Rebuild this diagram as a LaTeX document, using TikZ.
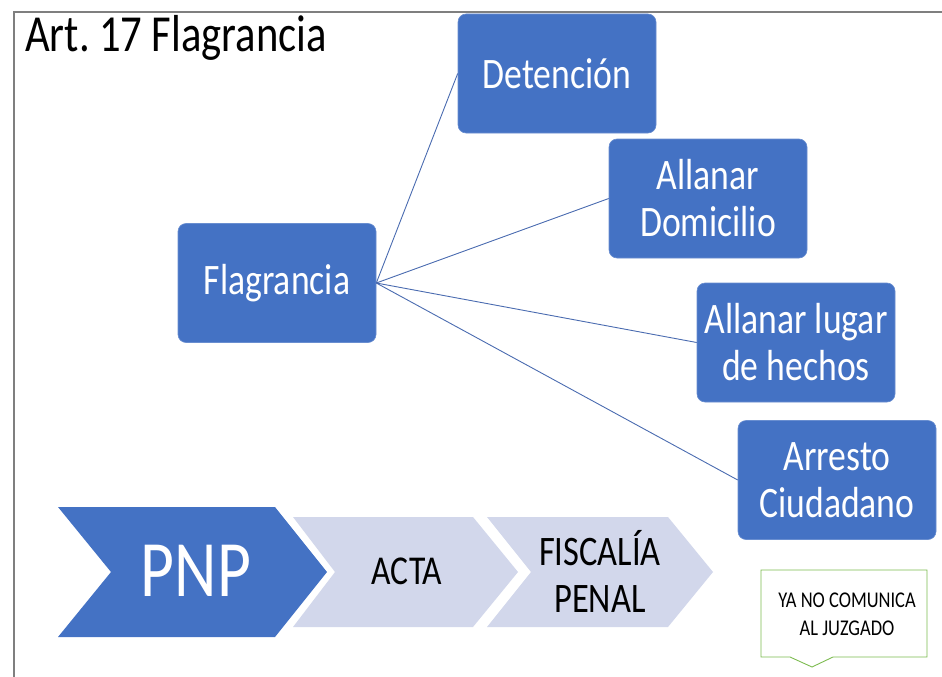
\documentclass[tikz,border=0pt]{standalone}
\usepackage{fontspec}
\setmainfont{Carlito}[FakeStretch=0.82]
\definecolor{boxblue}{HTML}{4472C4}
\definecolor{lineblue}{HTML}{4A6BB0}
\definecolor{chevlight}{HTML}{D2D7EB}
\definecolor{calloutgreen}{HTML}{7CBB4F}
\definecolor{framegray}{HTML}{7F7F7F}
\tikzset{
  bluebox/.style={fill=boxblue, draw=boxblue!80!white, line width=0.6pt, rounded corners=8pt,
    minimum width=198pt, minimum height=119pt, inner sep=0pt, text=white,
    align=center, font=\fontsize{43.5}{47}\selectfont},
  conn/.style={draw=lineblue, line width=0.9pt},
  chevdark/.style={fill=boxblue},
  chevpale/.style={fill=chevlight},
  chevtext/.style={inner sep=0pt, align=center},
}
\begin{document}
\begin{tikzpicture}[x=1pt,y=-1pt]
\useasboundingbox (0,0) rectangle (942,677);
% frame
\draw[framegray, line width=1.5pt] (14,677) -- (14,12) -- (942,12);
% title
\node[anchor=base west, inner sep=0pt, font=\fontsize{52}{55}\selectfont] (title) at (25,52) {Art.\hspace{0.18em}17\hspace{0.18em}Flagrancia};
% boxes
\node[bluebox] (flag) at (277,283) {Flagrancia};
\node[bluebox] (det) at (557,73.5) {Detención};
\node[bluebox] (dom) at (708,198.5) {Allanar\\Domicilio};
\node[bluebox] (lug) at (796,342.5) {Allanar lugar\\de hechos};
\node[bluebox] (arr) at (837,480) {Arresto\\Ciudadano};
% connectors
\draw[conn] (flag.east) -- (det.west);
\draw[conn] (flag.east) -- (dom.west);
\draw[conn] (flag.east) -- (lug.west);
\draw[conn] (flag.east) -- (arr.west);
% chevrons
\fill[chevdark] (58,507) -- (275,507) -- (327,572) -- (275,637) -- (58,637) -- (111,572) -- cycle;
\fill[chevpale] (293,517) -- (473,517) -- (518,572) -- (473,627) -- (293,627) -- (335,572) -- cycle;
\fill[chevpale] (487,517) -- (668,517) -- (713,572) -- (668,627) -- (487,627) -- (531,572) -- cycle;
\node[chevtext, text=white, font=\fontsize{80}{84}\selectfont] (pnp) at (196,571) {PNP};
\node[chevtext, text=black, font=\fontsize{41}{46}\selectfont] (acta) at (407,571) {ACTA};
\node[chevtext, text=black, font=\fontsize{42}{47}\selectfont] (fisc) at (600,571) {FISCALÍA\\PENAL};
% callout
\draw[calloutgreen, fill=white, line width=0.9pt] (761,570) -- (927,570) -- (927,657) -- (833,657) -- (812,667) -- (790,657) -- (761,657) -- cycle;
\node[chevtext, text=black, font=\fontsize{22.5}{28}\selectfont] (callout) at (847,614) {YA NO COMUNICA\\AL JUZGADO};
\end{tikzpicture}
\end{document}
